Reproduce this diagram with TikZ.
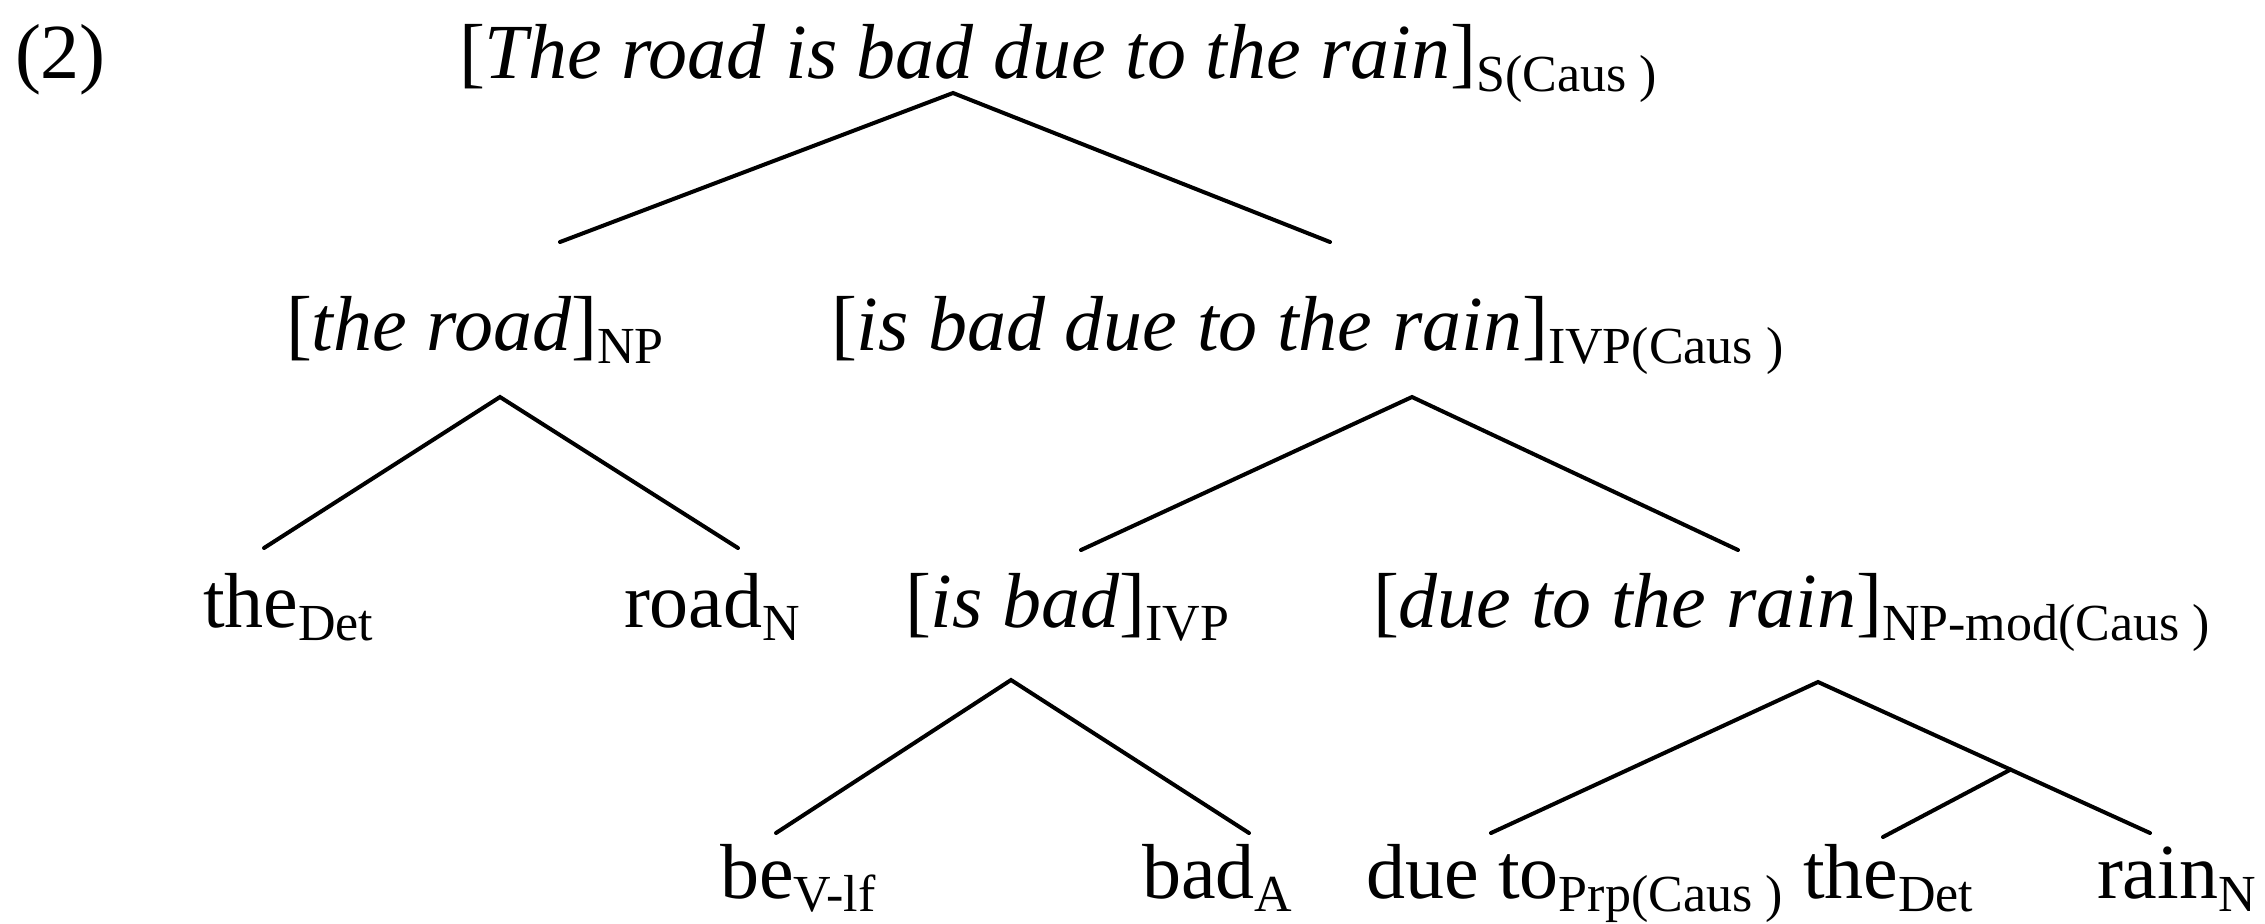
\documentclass[tikz,border=0pt]{standalone}
\usepackage{fontspec}
\setmainfont{Liberation Serif}
\usetikzlibrary{calc}
\newcommand{\lsub}[1]{\raisebox{-6.5pt}{\fontsize{26}{26}\selectfont #1}}
\newcommand{\lit}[1]{[\textit{#1}]}
\begin{document}
\begin{tikzpicture}[x=0.5pt,y=-0.5pt,
  lbl/.style={anchor=base west, inner sep=0pt, outer sep=0pt, font=\fontsize{39}{41}\selectfont},
  branch/.style={line width=2pt, line cap=round}]
\useasboundingbox (0,0) rectangle (2265,923);
% row 0
\node[lbl] (ex) at (15,78) {(2)};
\node[lbl] (s) at (459,78) {\lit{The road is bad due to the rain}\lsub{S(Caus )}};
% row 1
\node[lbl] (np) at (286,350) {\lit{the road}\lsub{NP}};
\node[lbl] (ivp) at (831,350) {\lit{is bad due to the rain}\lsub{IVP(Caus )}};
% row 2
\node[lbl] (det1) at (203,627) {the\lsub{Det}};
\node[lbl] (road) at (624,627) {road\lsub{N}};
\node[lbl] (ivp2) at (905,627) {\lit{is bad}\lsub{IVP}};
\node[lbl] (npmod) at (1373,627) {\lit{due to the rain}\lsub{NP-mod(Caus )}};
% row 3
\node[lbl] (be) at (720,898) {be\lsub{V-lf}};
\node[lbl] (bad) at (1142,898) {bad\lsub{A}};
\node[lbl] (dueto) at (1366,898) {due to\lsub{Prp(Caus )}};
\node[lbl] (det2) at (1803,898) {the\lsub{Det}};
\node[lbl] (rain) at (2097,898) {rain\lsub{N}};
% branch points
\coordinate (sA) at (953,93);
\coordinate (sL) at (560,242);
\coordinate (sR) at (1330,242);
\coordinate (npA) at (500,397);
\coordinate (npL) at (264,548);
\coordinate (npR) at (738,548);
\coordinate (ivpA) at (1412,397);
\coordinate (ivpL) at (1081,550);
\coordinate (ivpR) at (1738,550);
\coordinate (ivp2A) at (1011,680);
\coordinate (ivp2L) at (776,833);
\coordinate (ivp2R) at (1249,833);
\coordinate (nmA) at (1818,682);
\coordinate (nmL) at (1491,833);
\coordinate (nmR) at (2150,833);
\coordinate (nmJ) at ($(nmA)!0.58!(nmR)$);
\coordinate (nmM) at (1883,837);
\draw[branch] (sL) -- (sA) -- (sR);
\draw[branch] (npL) -- (npA) -- (npR);
\draw[branch] (ivpL) -- (ivpA) -- (ivpR);
\draw[branch] (ivp2L) -- (ivp2A) -- (ivp2R);
\draw[branch] (nmL) -- (nmA) -- (nmR);
\draw[branch] (nmJ) -- (nmM);
\end{tikzpicture}
\end{document}
